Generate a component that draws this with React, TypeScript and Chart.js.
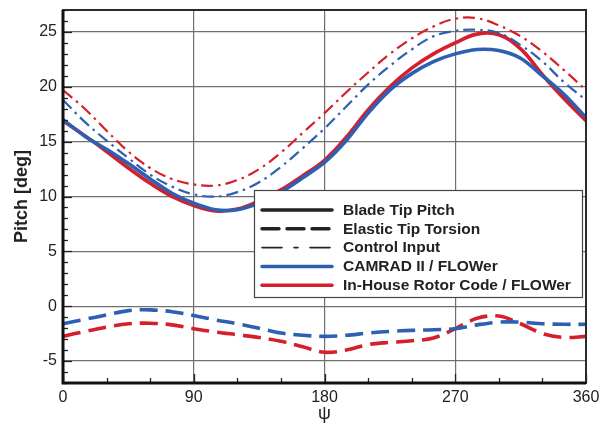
import { useEffect, useRef } from "react";
import { Chart, registerables } from "chart.js";

Chart.register(...registerables);

// Azimuth angles (deg)
const psi = [0, 15, 30, 45, 60, 75, 90, 105, 120, 135, 150, 165, 180, 195, 210, 225, 240, 255, 270, 285, 300, 315, 330, 345, 360];

// Blade tip pitch (solid)
const camradPitch = [17.0, 15.5, 14.3, 13.0, 11.6, 10.3, 9.4, 8.8, 8.8, 9.4, 10.4, 11.7, 13.1, 15.1, 17.6, 19.7, 21.2, 22.3, 23.0, 23.4, 23.3, 22.6, 21.0, 19.3, 17.2];
const inhousePitch = [16.9, 15.55, 14.1, 12.6, 11.2, 10.0, 9.17, 8.68, 8.85, 9.6, 10.6, 11.9, 13.3, 15.4, 17.9, 20.0, 21.7, 23.0, 24.0, 24.8, 24.75, 23.45, 21.1, 18.9, 16.9];

// Control input (dash-dot)
const camradControl = [18.8, 16.8, 15.1, 13.5, 12.0, 10.9, 10.2, 10.0, 10.4, 11.3, 12.7, 14.4, 16.2, 18.2, 20.2, 21.9, 23.4, 24.6, 25.1, 25.2, 24.9, 23.8, 22.3, 20.4, 18.8];
const inhouseControl = [19.7, 18.0, 16.0, 14.1, 12.6, 11.6, 11.1, 11.0, 11.5, 12.5, 14.0, 15.8, 17.6, 19.5, 21.3, 23.0, 24.4, 25.5, 26.2, 26.25, 25.6, 24.6, 23.2, 21.5, 19.7];

// Elastic tip torsion (dashed)
const camradTorsion = [-1.6, -1.2, -0.8, -0.4, -0.33, -0.5, -0.85, -1.25, -1.6, -2.0, -2.45, -2.65, -2.75, -2.65, -2.45, -2.3, -2.2, -2.15, -2.05, -1.7, -1.45, -1.45, -1.6, -1.65, -1.65];
const inhouseTorsion = [-2.75, -2.3, -1.9, -1.6, -1.55, -1.7, -2.05, -2.35, -2.6, -2.85, -3.2, -3.7, -4.2, -4.0, -3.5, -3.3, -3.15, -2.9, -2.05, -1.1, -0.9, -1.6, -2.5, -2.85, -2.75];

const xTicks = [0, 90, 180, 270, 360];
const yTicks = [-5, 0, 5, 10, 15, 20, 25];
const xMinorStep = 30;
const yMinorStep = 1;

const legendLabels = ["Blade Tip Pitch", "Elastic Tip Torsion", "Control Input", "CAMRAD II / FLOWer", "In-House Rotor Code / FLOWer"];

const BLUE = "#2d5fb2";
const RED = "#d51f2a";
const FONT = "'Liberation Sans', Arial, Helvetica, sans-serif";

const toXY = (vals: number[]) => vals.map((v, i) => ({ x: psi[i], y: v }));

const decorPlugin = {
  id: "decor",
  afterDatasetsDraw(chart: any) {
    const { ctx, chartArea } = chart;
    const xs = chart.scales.x;
    const ys = chart.scales.y;
    const { left, right, top, bottom } = chartArea;
    ctx.save();
    // minor / major ticks inward
    ctx.strokeStyle = "#222";
    ctx.lineWidth = 1.3;
    for (let v = Math.ceil(ys.min); v <= ys.max; v += yMinorStep) {
      const y = Math.round(ys.getPixelForValue(v)) + 0.5;
      const major = yTicks.includes(v);
      ctx.beginPath();
      ctx.moveTo(left, y);
      ctx.lineTo(left + (major ? 9 : 5), y);
      ctx.stroke();
    }
    for (let v = xs.min; v <= xs.max; v += xMinorStep) {
      const x = Math.round(xs.getPixelForValue(v)) + 0.5;
      const major = xTicks.includes(v);
      ctx.beginPath();
      ctx.moveTo(x, bottom);
      ctx.lineTo(x, bottom - (major ? 9 : 5));
      ctx.stroke();
    }
    // frame
    ctx.strokeStyle = "#2a2a2a";
    ctx.lineWidth = 2;
    ctx.strokeRect(left, top, right - left, bottom - top);
    ctx.strokeStyle = "#111";
    ctx.lineWidth = 3;
    ctx.beginPath();
    ctx.moveTo(left, top);
    ctx.lineTo(left, bottom);
    ctx.lineTo(right, bottom);
    ctx.stroke();

    // axis titles
    ctx.fillStyle = "#222";
    ctx.font = `bold 18px ${FONT}`;
    ctx.textAlign = "center";
    ctx.textBaseline = "middle";
    ctx.save();
    ctx.translate(22, (top + bottom) / 2);
    ctx.rotate(-Math.PI / 2);
    ctx.fillText("Pitch [deg]", 0, 0);
    ctx.restore();
    ctx.font = `18px ${FONT}`;
    ctx.fillText("ψ", (left + right) / 2, 414);

    // legend
    const bx = left + 191;
    const by = top + 180;
    const bw = 328;
    const bh = 107;
    ctx.fillStyle = "#fff";
    ctx.fillRect(bx, by, bw, bh);
    ctx.strokeStyle = "#444";
    ctx.lineWidth = 1.2;
    ctx.strokeRect(bx + 0.5, by + 0.5, bw, bh);
    const styles = [
      { color: "#222", width: 3.5, dash: [] as number[] },
      { color: "#222", width: 3.5, dash: [17, 8] },
      { color: "#222", width: 1.6, dash: [20, 12, 4, 12] },
      { color: BLUE, width: 3.5, dash: [] as number[] },
      { color: RED, width: 3.5, dash: [] as number[] },
    ];
    ctx.font = `bold 15.5px ${FONT}`;
    ctx.textAlign = "left";
    ctx.textBaseline = "middle";
    legendLabels.forEach((lab, i) => {
      const y = by + 20 + i * 18.8;
      const s = styles[i];
      ctx.strokeStyle = s.color;
      ctx.lineWidth = s.width;
      ctx.setLineDash(s.dash);
      ctx.lineCap = "round";
      ctx.beginPath();
      ctx.moveTo(bx + 8, y);
      ctx.lineTo(bx + 78, y);
      ctx.stroke();
      ctx.setLineDash([]);
      ctx.fillStyle = "#222";
      ctx.fillText(lab, bx + 89, y + 0.5);
    });
    ctx.restore();
  },
};

export default function App() {
  const ref = useRef<HTMLCanvasElement | null>(null);
  useEffect(() => {
    if (!ref.current) return;
    const solid = (label: string, vals: number[], color: string, tension: number) => ({
      label,
      data: toXY(vals),
      borderColor: color,
      borderWidth: 3.6,
      pointRadius: 0,
      tension,
      fill: false,
    });
    const chart = new Chart(ref.current, {
      type: "line",
      data: {
        datasets: [
          { ...solid("CAMRAD torsion", camradTorsion, BLUE, 0.35), borderDash: [18, 8] },
          { ...solid("In-House torsion", inhouseTorsion, RED, 0.35), borderDash: [18, 8] },
          { ...solid("CAMRAD control", camradControl, BLUE, 0.4), borderWidth: 2.2, borderDash: [12, 5, 2.5, 5] },
          { ...solid("In-House control", inhouseControl, RED, 0.4), borderWidth: 2.2, borderDash: [12, 5, 2.5, 5] },
          solid("CAMRAD pitch", camradPitch, BLUE, 0.3),
          solid("In-House pitch", inhousePitch, RED, 0.4),
        ],
      },
      options: {
        animation: false,
        responsive: true,
        maintainAspectRatio: false,
        layout: { padding: { left: 0, right: 15, top: 10, bottom: 0 } },
        plugins: { legend: { display: false }, tooltip: { enabled: false } },
        scales: {
          x: {
            type: "linear",
            min: 0,
            max: 360,
            afterBuildTicks: (s: any) => {
              s.ticks = xTicks.map((v) => ({ value: v }));
            },
            afterFit: (s: any) => {
              s.height = 42;
              s.paddingLeft = 0;
              s.paddingRight = 0;
            },
            grid: { color: "#707070", lineWidth: 1.2, drawTicks: false },
            border: { display: false },
            ticks: { color: "#222", font: { family: FONT, size: 16 }, padding: 5, autoSkip: false, maxRotation: 0 },
          },
          y: {
            type: "linear",
            min: -7,
            max: 27,
            afterBuildTicks: (s: any) => {
              s.ticks = yTicks.map((v) => ({ value: v }));
            },
            afterFit: (s: any) => {
              s.width = 63;
              s.paddingTop = 0;
              s.paddingBottom = 0;
            },
            grid: { color: "#707070", lineWidth: 1.2, drawTicks: false },
            border: { display: false },
            ticks: { color: "#222", font: { family: FONT, size: 16 }, padding: 6 },
          },
        },
      },
      plugins: [decorPlugin],
    } as any);
    return () => chart.destroy();
  }, []);
  return (
    <div style={{ position: "fixed", left: 0, top: 0, width: 601, height: 425, background: "#fff" }}>
      <canvas ref={ref} />
    </div>
  );
}
